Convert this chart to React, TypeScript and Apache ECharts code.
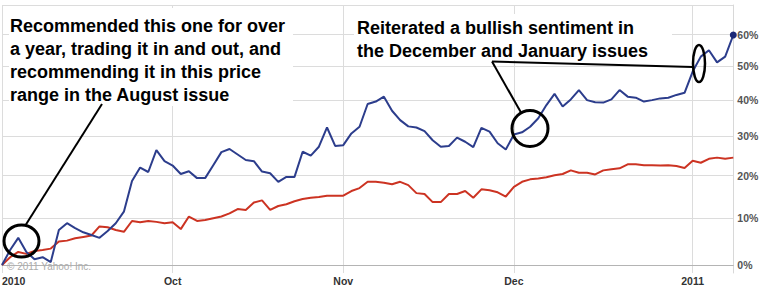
import React, { useEffect, useRef } from "react";
import * as echarts from "echarts";

// Trading days, Sep 1 2010 – Jan 10 2011
const dates = [
  "2010-09-01","2010-09-02","2010-09-03","2010-09-07","2010-09-08","2010-09-09","2010-09-10",
  "2010-09-13","2010-09-14","2010-09-15","2010-09-16","2010-09-17","2010-09-20","2010-09-21",
  "2010-09-22","2010-09-23","2010-09-24","2010-09-27","2010-09-28","2010-09-29","2010-09-30",
  "2010-10-01","2010-10-04","2010-10-05","2010-10-06","2010-10-07","2010-10-08","2010-10-11",
  "2010-10-12","2010-10-13","2010-10-14","2010-10-15","2010-10-18","2010-10-19","2010-10-20",
  "2010-10-21","2010-10-22","2010-10-25","2010-10-26","2010-10-27","2010-10-28","2010-10-29",
  "2010-11-01","2010-11-02","2010-11-03","2010-11-04","2010-11-05","2010-11-08","2010-11-09",
  "2010-11-10","2010-11-11","2010-11-12","2010-11-15","2010-11-16","2010-11-17","2010-11-18",
  "2010-11-19","2010-11-22","2010-11-23","2010-11-24","2010-11-26","2010-11-29","2010-11-30",
  "2010-12-01","2010-12-02","2010-12-03","2010-12-06","2010-12-07","2010-12-08","2010-12-09",
  "2010-12-10","2010-12-13","2010-12-14","2010-12-15","2010-12-16","2010-12-17","2010-12-20",
  "2010-12-21","2010-12-22","2010-12-23","2010-12-27","2010-12-28","2010-12-29","2010-12-30",
  "2010-12-31","2011-01-03","2011-01-04","2011-01-05","2011-01-06","2011-01-07","2011-01-10",
];

// Percent change of the stock (blue)
const stockPct = [
  0, 3.1, 5.7, 2.7, 1.2, 1.6, 0.6, 7.4, 8.9, 7.8, 6.9, 6.3, 5.7, 7.2, 8.9, 11.5, 18.7, 22.0, 20.9, 26.4,
  23.6, 22.5, 20.4, 21.1, 19.4, 19.4, 22.6, 25.9, 26.7, 25.3, 23.9, 23.6, 21.0, 20.6, 18.5, 19.7, 19.7,
  26.0, 25.0, 27.3, 32.4, 27.5, 27.7, 30.8, 32.6, 38.9, 39.6, 41.0, 37.0, 34.4, 32.7, 32.4, 31.4, 29.0,
  27.3, 27.5, 29.7, 28.6, 27.2, 32.3, 31.3, 28.2, 26.6, 30.5, 31.1, 32.6, 34.9, 38.6, 41.8, 38.2, 40.2,
  42.9, 40.0, 39.4, 39.3, 40.2, 42.9, 41.0, 40.7, 39.6, 40.0, 40.5, 40.7, 41.5, 42.1, 48.4, 53.0, 55.0,
  51.2, 53.0, 59.9,
];

// Percent change of the benchmark (red)
const benchmarkPct = [
  0, 1.6, 2.7, 2.3, 2.9, 3.1, 3.4, 4.9, 5.1, 5.6, 5.9, 6.2, 8.2, 8.0, 7.4, 7.0, 9.4, 9.1, 9.4, 9.2,
  8.9, 9.1, 7.6, 10.4, 9.4, 9.6, 10.0, 10.4, 11.1, 12.1, 11.9, 13.6, 14.1, 11.9, 12.8, 13.2, 13.9,
  14.4, 14.7, 14.9, 15.2, 15.2, 15.2, 16.3, 17.0, 18.5, 18.5, 18.3, 17.9, 18.5, 17.7, 15.8, 15.6, 13.7,
  13.7, 15.6, 15.6, 16.3, 14.7, 16.7, 16.5, 16.0, 15.0, 17.3, 18.5, 19.1, 19.3, 19.6, 20.1, 20.4, 21.3,
  20.7, 20.7, 20.3, 21.3, 21.6, 21.8, 22.8, 22.8, 22.6, 22.6, 22.5, 22.6, 22.4, 21.9, 23.7, 23.2, 24.2,
  24.5, 24.2, 24.5,
];

const yGridPct = [0, 10, 20, 30, 40, 50, 60, 70];
const yLabelPct = [0, 10, 20, 30, 40, 50, 60];
const yMinPct = -1.62;
const yMaxPct = 70;

const xLabelDates = ["2010-09-01", "2010-10-01", "2010-11-01", "2010-12-01", "2011-01-03"];
const xLabelTexts = ["2010", "Oct", "Nov", "Dec", "2011"];

const toLog = (p: number) => Math.log(1 + p / 100);

const FONT = '"Liberation Sans", Arial, sans-serif';

export default function App() {
  const ref = useRef<HTMLDivElement>(null);

  useEffect(() => {
    if (!ref.current) return;
    const chart = echarts.init(ref.current, undefined, { renderer: "svg" });
    const annoFont = `bold 18px ${FONT}`;
    chart.setOption({
      animation: false,
      backgroundColor: "#ffffff",
      grid: { left: 2, right: 28.7, top: 5, bottom: 14, containLabel: false, outerBoundsMode: "none" },
      xAxis: {
        type: "category",
        data: dates,
        boundaryGap: false,
        axisTick: { show: false },
        axisLine: { show: true, lineStyle: { color: "#b4b4b4", width: 1 } },
        axisLabel: {
          interval: (_i: number, v: string) => xLabelDates.includes(v),
          formatter: (v: string) => {
            const k = xLabelDates.indexOf(v);
            return k >= 0 ? xLabelTexts[k] : "";
          },
          alignMinLabel: "left",
          color: "#333",
          fontSize: 10.5,
          lineHeight: 11,
          fontWeight: "bold",
          fontFamily: FONT,
          margin: 2.5,
        },
        splitLine: {
          show: true,
          interval: (_i: number, v: string) => xLabelDates.includes(v),
          lineStyle: { color: "#dcdcdc", width: 1 },
        },
      },
      yAxis: {
        type: "value",
        position: "right",
        min: toLog(yMinPct),
        max: toLog(yMaxPct),
        axisLine: { show: true, lineStyle: { color: "#d8d8d8" } },
        axisTick: { show: false, customValues: yGridPct.map(toLog) },
        axisLabel: {
          customValues: yLabelPct.map(toLog),
          formatter: (v: number) => `${Math.round((Math.exp(v) - 1) * 100)}%`,
          color: "#555",
          fontSize: 10.5,
          fontWeight: "bold",
          fontFamily: FONT,
          margin: 4,
        },
        splitLine: { show: true, lineStyle: { color: "#dcdcdc", width: 1 } },
      },
      series: [
        {
          type: "line",
          name: "Benchmark",
          data: benchmarkPct.map(toLog),
          symbol: "none",
          lineStyle: { color: "#cc3322", width: 2 },
          z: 3,
        },
        {
          type: "line",
          name: "Stock",
          data: stockPct.map(toLog),
          symbol: "none",
          lineStyle: { color: "#2c3d8c", width: 2 },
          z: 4,
          markPoint: {
            symbol: "circle",
            symbolSize: 7,
            label: { show: false },
            itemStyle: { color: "#1b2877" },
            data: [{ coord: [dates[dates.length - 1], toLog(stockPct[stockPct.length - 1])] }],
          },
        },
      ],
      graphic: [
        {
          type: "text",
          z: 1,
          style: {
            text: "© 2011 Yahoo! Inc.",
            x: 7,
            y: 266,
            verticalAlign: "middle",
            fill: "#acacac",
            font: `10px ${FONT}`,
          },
        },
        { type: "rect", z: 100, shape: { x: 9, y: 8, width: 284, height: 98 }, style: { fill: "#ffffff" } },
        { type: "rect", z: 100, shape: { x: 354, y: 14, width: 318, height: 46 }, style: { fill: "#ffffff" } },
        {
          type: "text",
          z: 101,
          style: {
            text: "Recommended this one for over\na year, trading it in and out, and\nrecommending it in this price\nrange in the August issue",
            x: 10,
            y: 14,
            verticalAlign: "top",
            lineHeight: 23,
            fill: "#000",
            font: annoFont,
          },
        },
        {
          type: "text",
          z: 101,
          style: {
            text: "Reiterated a bullish sentiment in\nthe December and January issues",
            x: 357,
            y: 16.6,
            verticalAlign: "top",
            lineHeight: 23,
            fill: "#000",
            font: annoFont,
          },
        },
        { type: "line", z: 102, shape: { x1: 25, y1: 226, x2: 102, y2: 104 }, style: { stroke: "#000", lineWidth: 2 } },
        { type: "line", z: 102, shape: { x1: 492, y1: 61.5, x2: 521, y2: 112.5 }, style: { stroke: "#000", lineWidth: 2 } },
        { type: "line", z: 102, shape: { x1: 492, y1: 61.5, x2: 693, y2: 67 }, style: { stroke: "#000", lineWidth: 2 } },
        { type: "ellipse", z: 102, shape: { cx: 21.5, cy: 241, rx: 17.5, ry: 16 }, style: { fill: "none", stroke: "#000", lineWidth: 3 } },
        { type: "ellipse", z: 102, shape: { cx: 530, cy: 128.5, rx: 18, ry: 18 }, style: { fill: "none", stroke: "#000", lineWidth: 3 } },
        { type: "ellipse", z: 102, shape: { cx: 699, cy: 63.5, rx: 6, ry: 18.5 }, style: { fill: "none", stroke: "#000", lineWidth: 2.5 } },
      ],
    });
    return () => chart.dispose();
  }, []);

  return (
    <div
      ref={ref}
      style={{ position: "fixed", left: 0, top: 0, width: 762, height: 287, background: "#fff" }}
    />
  );
}
